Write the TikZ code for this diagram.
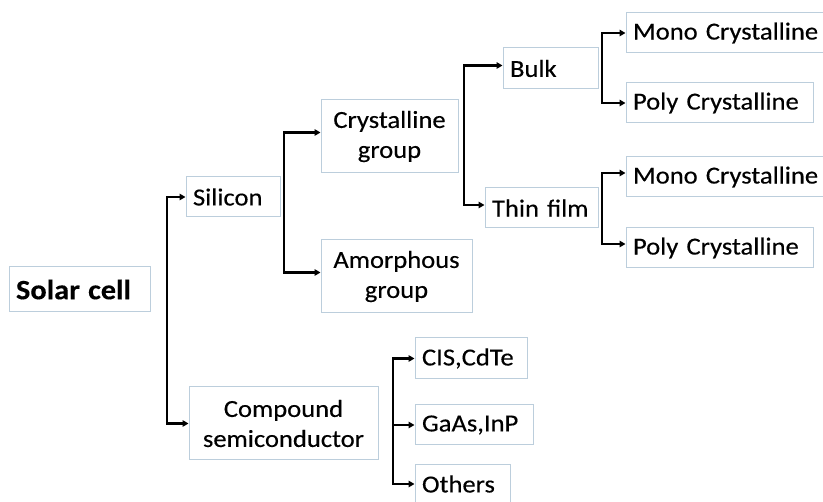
\documentclass[tikz,border=0pt]{standalone}
\usepackage{fontspec}
\setmainfont{Carlito}[FakeStretch=1.085, FakeBold=0.3]
\usetikzlibrary{arrows.meta}
\definecolor{boxline}{RGB}{188,206,220}
\tikzset{
  box/.style={draw=boxline, line width=1pt, rectangle, inner xsep=7pt, inner ysep=0pt,
    font=\fontsize{24.5}{30}\selectfont, text=black},
  lbox/.style={box, align=left},
  cbox/.style={box, align=center},
  both/.style={line width=2.2pt, black, line join=miter,
    {Triangle[length=6pt,width=6.5pt]}-{Triangle[length=6pt,width=6.5pt]}},
  link/.style={line width=2.2pt, black, -{Triangle[length=6pt,width=6.5pt]}}
}
\newcommand{\bx}[6]{% name, style, x1, y1, x2, y2, then the text
  \node[#2, minimum width=#5pt-#3pt, minimum height=#6pt-#4pt, text width=#5pt-#3pt-14pt]
    (#1) at ({(#3+#5)/2},{(#4+#6)/2})}
\begin{document}
\begin{tikzpicture}[x=1pt,y=-1pt]
\useasboundingbox (0,0) rectangle (823,502);
\clip (0,0) rectangle (823,502);
\fill[white] (0,0) rectangle (823,502);

% boxes
\bx{solar}{lbox}{9}{267}{150}{312} {\bfseries\fontsize{28}{32}\selectfont Solar cell};
\bx{silicon}{lbox}{186}{177}{280}{217} {Silicon};
\bx{compound}{cbox}{189}{387}{378}{460} {Compound\\semiconductor};
\bx{cryst}{cbox}{321}{100}{458}{173} {Crystalline\\group};
\bx{amorph}{cbox}{321}{240}{472}{313} {Amorphous\\group};
\bx{bulk}{lbox}{503}{48}{598}{89} {Bulk};
\bx{thin}{lbox}{485}{188}{598}{228} {Thin film};
\bx{monoA}{lbox}{626}{13}{836}{53} {Mono Crystalline};
\bx{polyA}{lbox}{626}{83}{813}{123} {Poly Crystalline};
\bx{monoB}{lbox}{626}{157}{836}{197} {Mono Crystalline};
\bx{polyB}{lbox}{626}{228}{813}{268} {Poly Crystalline};
\bx{cis}{lbox}{415}{338}{527}{379} {CIS,CdTe};
\bx{gaas}{lbox}{415}{405}{533}{445} {GaAs,InP};
\bx{others}{lbox}{415}{465}{510}{503} {Others};

% entry points on the box sides
\coordinate (pCryst) at ([yshift=4pt]cryst.west);
\coordinate (pAmorph) at ([yshift=4pt]amorph.west);
\coordinate (pBulk) at ([yshift=3pt]bulk.west);
\coordinate (pThin) at ([yshift=3pt]thin.west);
\coordinate (pMonoB) at ([yshift=4pt]monoB.west);
\coordinate (pPolyB) at ([yshift=4pt]polyB.west);

% bus lines
\coordinate (busA) at (167,0);
\coordinate (busB) at (284,0);
\coordinate (busC) at (464,0);
\coordinate (busD) at (602,0);
\coordinate (busE) at (393,0);

\draw[both] (silicon.west) -- (busA |- silicon.west) -- (busA |- compound.west) -- (compound.west);
\draw[both] (pCryst) -- (busB |- pCryst) -- (busB |- pAmorph) -- (pAmorph);
\draw[both] (pBulk) -- (busC |- pBulk) -- (busC |- pThin) -- (pThin);
\draw[both] (monoA.west) -- (busD |- monoA.west) -- (busD |- polyA.west) -- (polyA.west);
\draw[both] (pMonoB) -- (busD |- pMonoB) -- (busD |- pPolyB) -- (pPolyB);
\draw[both] (cis.west) -- (busE |- cis.west) -- (busE |- others.west) -- (others.west);
\draw[link] (busE |- gaas.west) -- (gaas.west);
\end{tikzpicture}
\end{document}
